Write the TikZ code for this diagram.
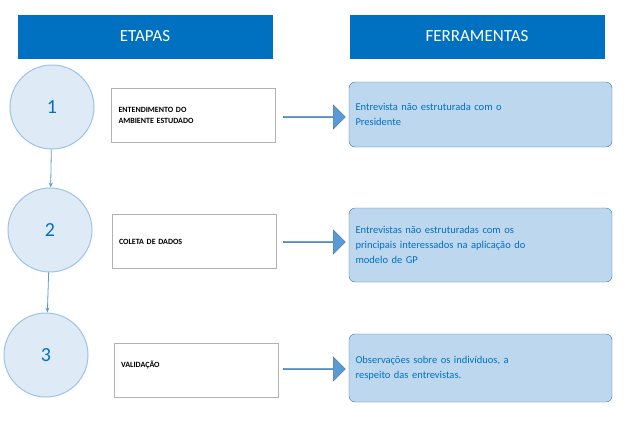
\documentclass[tikz,border=0pt]{standalone}
\usepackage{fontspec}
\setmainfont{Carlito}
\usetikzlibrary{shapes.arrows,arrows.meta}
\definecolor{hdr}{HTML}{0070C0}
\definecolor{circf}{HTML}{DEEBF7}
\definecolor{circb}{HTML}{9DC3E6}
\definecolor{toolf}{HTML}{BDD7EE}
\definecolor{toolb}{HTML}{2E75B6}
\definecolor{arrf}{HTML}{5B9BD5}
\definecolor{arrb}{HTML}{41719C}
\begin{document}
\begin{tikzpicture}[x=1pt,y=-1pt,
 hdrbox/.style={fill=hdr,draw=hdr,minimum width=254pt,minimum height=43pt,text=white,font=\fontsize{17}{20}\selectfont},
 stage/.style={circle,fill=circf,draw=circb,line width=1pt,minimum size=84pt,text=hdr,font=\fontsize{20}{24}\selectfont},
 stepbox/.style={draw=black!30,fill=white,minimum width=164pt,minimum height=54pt,text width=150pt,align=left,font=\bfseries\fontsize{8}{11}\selectfont},
 toolbox/.style={draw=toolb,fill=toolf,rounded corners=6pt,minimum width=263pt,text width=250pt,align=left,text=hdr,font=\fontsize{10.5}{15}\selectfont},
 blockarr/.style={single arrow,fill=arrf,draw=arrb,minimum width=24pt,single arrow head extend=3pt,minimum height=62pt,inner sep=0pt},
 link/.style={draw=arrf,line width=0.8pt,-{Stealth[length=5pt,width=4pt]}}]
\useasboundingbox (0,0) rectangle (630,426);
\node[hdrbox] (h1) at (145,36.5) {ETAPAS};
\node[hdrbox] (h2) at (477,36.5) {FERRAMENTAS};
\node[stage] (c1) at (52,107) {1};
\node[stage] (c2) at (50,230) {2};
\node[stage] (c3) at (46,355) {3};
\draw[link] (c1) -- (c2);
\draw[link] (c2) -- (c3);
\node[stepbox] (s1) at (193.5,115.5) {ENTENDIMENTO DO\\AMBIENTE ESTUDADO};
\node[stepbox] (s2) at (194,241.5) {COLETA DE DADOS};
\node[stepbox] (s3) at (196,370) {\raisebox{12pt}{VALIDAÇÃO}};
\node[toolbox,minimum height=65pt] (t1) at (480.5,114.5) {\raisebox{0pt}{Entrevista não estruturada com o}\\Presidente};
\node[toolbox,minimum height=74pt] (t2) at (480.5,245) {Entrevistas não estruturadas com os\\principais interessados na aplicação do\\modelo de GP};
\node[toolbox,minimum height=68pt] (t3) at (480.5,368) {Observações sobre os indivíduos, a\\respeito das entrevistas.};
\node[blockarr] (a1) at (314,117) {};
\node[blockarr] (a2) at (314,242) {};
\node[blockarr] (a3) at (314,369) {};
\end{tikzpicture}
\end{document}
